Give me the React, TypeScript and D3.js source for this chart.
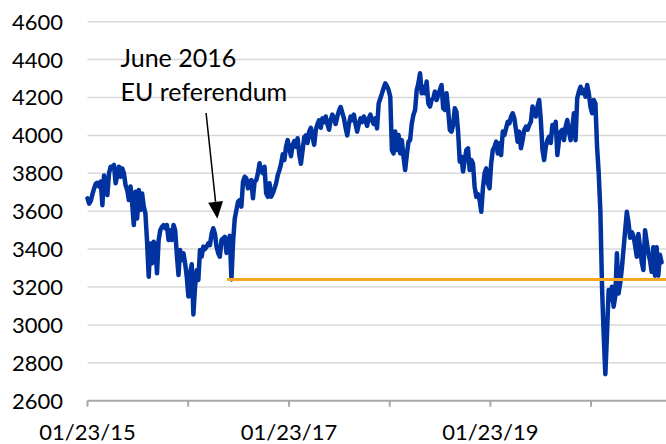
import React from "react";
import * as d3 from "d3";

// ---- data (every 6 calendar days from 01/23/2015) ----
const seriesStart = "2015-01-23";
const stepDays = 6;
const indexValues: number[] = [
  // 2015 - 2016
  3668, 3640, 3655, 3690, 3720, 3745, 3750, 3730, 3756, 3632,
  3789, 3740, 3685, 3800, 3835, 3835, 3844, 3747, 3790, 3835,
  3782, 3826, 3800, 3738, 3712, 3659, 3730, 3642, 3527, 3703,
  3562, 3712, 3606, 3694, 3624, 3589, 3439, 3254, 3430, 3325,
  3439, 3421, 3272, 3448, 3500, 3518, 3527, 3510, 3527, 3448,
  3500, 3448, 3527, 3500, 3369, 3263, 3395, 3342, 3378, 3325,
  3254, 3150, 3272, 3320, 3055, 3200, 3289, 3237, 3395, 3360,
  3413, 3400, 3413, 3430, 3421, 3480, 3510, 3483, 3413, 3378,
  3360, 3448, 3456, 3465, 3380, 3430, 3470, 3240, 3440, 3560,
  3606, 3650, 3659, 3624, 3756, 3782, 3773, 3721, 3756, 3764,
  3668, 3756, 3764, 3800, 3853, 3809, 3800, 3835, 3694, 3676,
  3747, 3676, 3694, 3720, 3747, 3790, 3817,
  // 2017
  3850, 3900, 3870, 3940, 3975, 3930, 3890, 3950, 3970, 3940,
  3985, 3900, 3850, 3920, 3990, 4000, 3960, 4020, 4040, 3990,
  3950, 4030, 4060, 4080, 4040, 4090, 4070, 4100, 4060, 4030,
  4080, 4110, 4090, 4060, 4100, 4130, 4150, 4120, 4090, 4040,
  4000, 4060, 4100, 4080, 4110, 4060, 4020, 4060, 4090, 4070,
  4100, 4080, 4050, 4090, 4110, 4080, 4060, 4090,
  // 2018 - 2019
  4037, 4169, 4195, 4222, 4250, 4275, 4260, 4240, 4204, 3923,
  3905, 4020, 3923, 4002, 3905, 3975, 3888, 3817, 3896, 3967,
  3975, 4063, 4108, 4134, 4240, 4275, 4328, 4222, 4257, 4222,
  4284, 4169, 4152, 4187, 4196, 4231, 4187, 4213, 4240, 4266,
  4143, 4134, 4222, 4134, 4029, 4020, 4055, 4143, 4125, 4020,
  3861, 3888, 3809, 3870, 3923, 3932, 3817, 3870, 3852, 3729,
  3676, 3690, 3659, 3597, 3721, 3800, 3826, 3747, 3721, 3853,
  3923, 3940, 3967, 3905, 3958, 3896, 4020, 4002, 4037, 4072,
  4063, 4099, 4117, 4090, 4029, 3967, 4020, 3932, 3975, 4029,
  4046, 4030, 4055, 4072, 4152, 4117, 4100, 4152, 4187, 4081,
  3923, 3870, 3940, 3975, 3993, 3960, 4055, 4020, 4072, 3896,
  3975, 4020, 4029, 3975, 4046, 4081, 4020, 3975, 4040, 4117,
  3975, 4196, 4231, 4257, 4222, 4240, 4204, 4266, 4222, 4152,
  4117, 4187, 4169, 3940, 3800, 3600, 3200,
  // 2020
  2950, 2740, 2950, 3184, 3131, 3201, 3096, 3150, 3378, 3166,
  3220, 3300, 3400, 3500, 3597, 3540, 3460, 3490, 3470, 3420,
  3360, 3480, 3410, 3330, 3290, 3500, 3440, 3380, 3340, 3280,
  3410, 3260, 3410, 3260, 3370, 3330,
];

const yTicks = [2600, 2800, 3000, 3200, 3400, 3600, 3800, 4000, 4200, 4400, 4600];
const xTickYears = [2015, 2016, 2017, 2018, 2019, 2020];
const xLabelYears = [2015, 2017, 2019];
const axisEndDate = "2020-10-21";

const referenceLevel = 3240;
const referenceStart = "2016-06-12";

const annotationLines = ["June 2016", "EU referendum"];
const annotationDate = "2016-05-08";
const annotationValue = 3560;

// ---- layout ----
const W = 666;
const H = 444;
const plotLeft = 87.5;
const plotRight = 666;
const plotTop = 21.7;
const plotBottom = 400.7;
const FONT = "Lato, 'Open Sans', sans-serif";

export default function App() {
  const parse = d3.timeParse("%Y-%m-%d");
  const start = parse(seriesStart) as Date;
  const data = indexValues.map((v, i) => ({
    date: d3.timeDay.offset(start, i * stepDays),
    value: v,
  }));

  const x = d3
    .scaleTime()
    .domain([start, parse(axisEndDate) as Date])
    .range([plotLeft, plotRight]);
  const y = d3.scaleLinear().domain([2600, 4600]).range([plotBottom, plotTop]);

  const line = d3
    .line<{ date: Date; value: number }>()
    .x((d) => x(d.date))
    .y((d) => y(d.value))
    .curve(d3.curveLinear);

  const fmt = d3.timeFormat("%m/%d/%y");
  const tickDate = (yr: number) => new Date(yr, 0, 23);

  const arrowTipX = x(parse(annotationDate) as Date);
  const arrowTipY = y(annotationValue);
  const arrowStartX = arrowTipX - 11.3;
  const arrowStartY = 113;
  const ang = Math.atan2(arrowTipY - arrowStartY, arrowTipX - arrowStartX);
  const headLen = 17;
  const headHalf = 7.5;
  const bx = arrowTipX - headLen * Math.cos(ang);
  const by = arrowTipY - headLen * Math.sin(ang);
  const px = -Math.sin(ang);
  const py = Math.cos(ang);

  return (
    <svg
      width={W}
      height={H}
      style={{ position: "absolute", left: 0, top: 0, background: "#fff" }}
      fontFamily={FONT}
    >
      <rect width={W} height={H} fill="#fff" />
      {yTicks.slice(1).map((t) => (
        <line
          key={t}
          x1={plotLeft}
          x2={plotRight}
          y1={y(t)}
          y2={y(t)}
          stroke="#d9d9d9"
          strokeWidth={1.5}
        />
      ))}
      {yTicks.map((t) => (
        <text
          key={"l" + t}
          x={63}
          y={y(t)}
          dy="0.36em"
          textAnchor="end"
          fontSize={22}
          fill="#000"
        >
          {t}
        </text>
      ))}
      <line
        x1={plotLeft}
        x2={plotRight}
        y1={plotBottom}
        y2={plotBottom}
        stroke="#a6a6a6"
        strokeWidth={2}
      />
      {xTickYears.map((yr) => (
        <line
          key={"t" + yr}
          x1={x(tickDate(yr))}
          x2={x(tickDate(yr))}
          y1={plotBottom}
          y2={plotBottom + 6}
          stroke="#a6a6a6"
          strokeWidth={2}
        />
      ))}
      {xLabelYears.map((yr) => (
        <text
          key={"x" + yr}
          x={x(tickDate(yr))}
          y={440}
          textAnchor="middle"
          fontSize={22}
          fill="#000"
        >
          {fmt(tickDate(yr))}
        </text>
      ))}
      <path
        d={line(data) || ""}
        fill="none"
        stroke="#0033a0"
        strokeWidth={4.5}
        strokeLinejoin="round"
        strokeLinecap="round"
      />
      <line
        x1={x(parse(referenceStart) as Date)}
        x2={plotRight}
        y1={y(referenceLevel)}
        y2={y(referenceLevel)}
        stroke="#f6a623"
        strokeWidth={3}
      />
      {annotationLines.map((s, i) => (
        <text key={s} x={120.5} y={66.5 + i * 34.5} fontSize={25} fill="#000">
          {s}
        </text>
      ))}
      <line
        x1={arrowStartX}
        y1={arrowStartY}
        x2={bx}
        y2={by}
        stroke="#000"
        strokeWidth={1.5}
      />
      <polygon
        points={`${arrowTipX},${arrowTipY} ${bx + px * headHalf},${by + py * headHalf} ${bx - px * headHalf},${by - py * headHalf}`}
        fill="#000"
      />
    </svg>
  );
}
